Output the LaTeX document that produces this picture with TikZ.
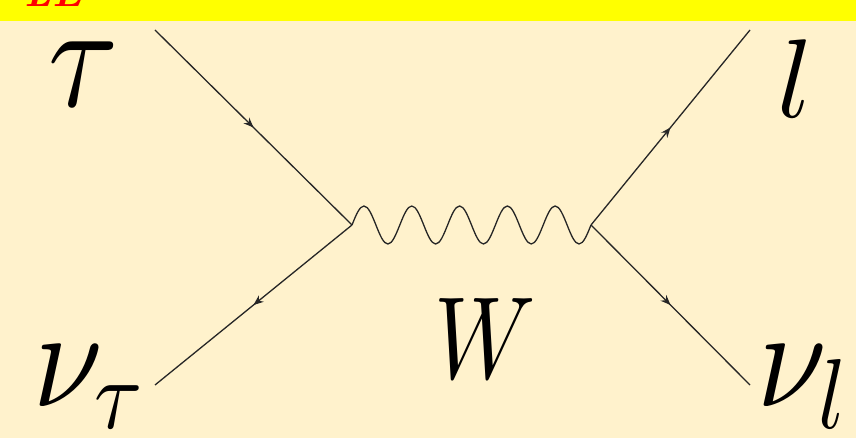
\documentclass[tikz,border=0pt]{standalone}
\DeclareFontShape{OML}{cmm}{m}{it}{<-> cmmi10}{}
\DeclareFontShape{OMS}{cmsy}{m}{n}{<-> cmsy10}{}
\DeclareFontShape{OMX}{cmex}{m}{n}{<-> cmex10}{}
\usetikzlibrary{arrows.meta,decorations.markings}
\definecolor{slidecream}{HTML}{FFF2CC}
\definecolor{bandyellow}{HTML}{FFFF00}
\begin{document}
\begin{tikzpicture}[x=1pt, y=1pt, >=Stealth,
  fermion/.style={draw=black!85, line width=1.3pt, postaction={decorate},
    decoration={markings, mark=at position 0.5 with {\arrow{Stealth[length=10pt,width=8pt]}}}},
  boson/.style={draw=black!85, line width=1.3pt},
  lbl/.style={inner sep=0pt}]
\useasboundingbox (0,0) rectangle (856,438);
% slide background and title band
\fill[slidecream] (0,0) rectangle (856,438);
\fill[bandyellow] (0,417) rectangle (856,438);
\begin{scope}
\clip (0,417) rectangle (856,438);
\node[lbl, anchor=base west, text=red, font=\fontsize{40}{40}\selectfont\bfseries\itshape] (title) at (24,431) {LE};
\end{scope}
% vertices and external legs
\coordinate (v1) at (352,213);
\coordinate (v2) at (591,213);
\coordinate (tauin) at (155,408);
\coordinate (nutauout) at (155,53);
\coordinate (lout) at (750,408);
\coordinate (nulout) at (750,53);
\draw[fermion] (tauin) -- (v1);
\draw[fermion] (v1) -- (nutauout);
\draw[fermion] (v2) -- (lout);
\draw[fermion] (v2) -- (nulout);
% W propagator, five periods from v1 to v2
\draw[boson] (v1) \foreach \k in {1,...,5} {
  sin ++(11.95,19) cos ++(11.95,-19) sin ++(11.95,-19) cos ++(11.95,19)};
% particle labels
\node[lbl, xscale=0.85, transform shape, font=\fontsize{150}{150}\selectfont] (tau) at (84,364) {$\tau$};
\node[lbl, anchor=base west, xscale=0.88, transform shape, font=\fontsize{142}{142}\selectfont] (nutau) at (33,31) {$\nu_\tau$};
\node[lbl, font=\fontsize{112}{112}\selectfont] (lep) at (795,359) {$l$};
\node[lbl, anchor=base west, xscale=0.88, transform shape, font=\fontsize{142}{142}\selectfont] (nul) at (757,31) {$\nu_l$};
\node[lbl, xscale=0.8, transform shape, font=\fontsize{117}{117}\selectfont] (wboson) at (485,99) {$W$};
\end{tikzpicture}
\end{document}
